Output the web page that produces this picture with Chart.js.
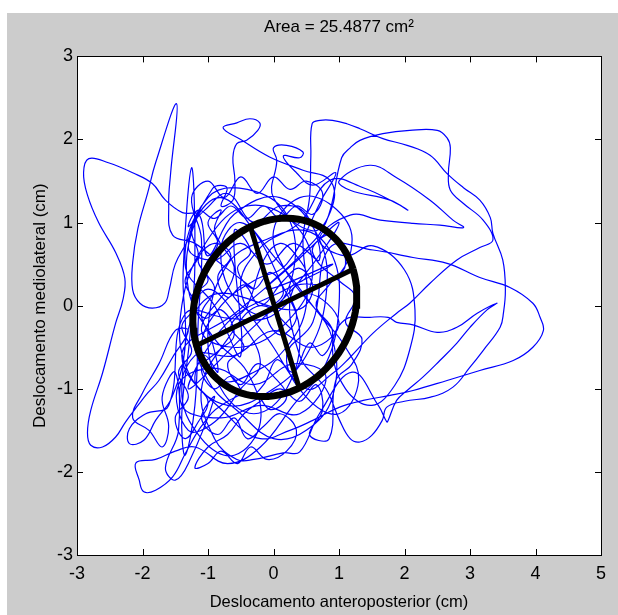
<!DOCTYPE html>
<html>
<head>
<meta charset="utf-8">
<script src="https://cdn.jsdelivr.net/npm/chart.js@4.4.1/dist/chart.umd.min.js"></script>
<style>
  html, body { margin: 0; padding: 0; background: #fff; }
</style>
</head>
<body>
<canvas id="grafico" width="618" height="615"></canvas>
<script>
// limites e ticks dos eixos
const limitesX = [-3, 5];
const limitesY = [-3, 3];
const passoTicks = 1;

const tituloGrafico = 'Area = 25.4877 cm²';
const tituloX = 'Deslocamento anteroposterior (cm)';
const tituloY = 'Deslocamento mediolateral (cm)';

// elipse de confianca
const centroElipse = [0.02, -0.02];
const semiEixos = [1.28, 1.04];
const anguloElipse = 21; // graus

// trajetoria do centro de pressao (x, y) em cm
const trajetoria = [
  // pico superior esquerdo
  [-0.3,0.2],[-0.8,0.5],[-1.2,0.75],[-1.54,0.85],[-1.6,1.21],[-1.57,1.6],[-1.48,2.43],[-1.8,1.72],[-1.92,1.36],[-2.07,0.93],[-2.15,0.52],[-2.15,0.19],[-2.04,0.03],[-1.85,-0.03],[-1.66,0.03],[-1.59,0.2],[-1.5,0.5],[-1.3,0.8],
  [-1.1,1.2],[-1.25,0.9],[-1.15,0.6],[-1.35,0.3],[-1.2,0.0],[-1.4,-0.25],[-1.25,-0.55],[-1.45,-0.8],[-1.3,-1.1],[-1.5,-1.35],[-1.35,-1.6],[-1.15,-1.4],[-1.0,-1.15],[-1.2,-0.9],[-1.05,-0.6],[-0.85,-0.8],[-0.95,-0.4],[-1.1,-0.1],[-0.9,0.2],[-1.05,0.45],[-0.85,0.75],[-1.0,1.0],[-0.8,1.15],
  [-0.9,0.9],[-0.6,0.4],[-1.1,-0.3],[-0.5,-0.5],[0.2,-0.2],[0.6,0.4],[0.3,1.0],[-0.4,1.2],[-1.0,0.8],[-1.4,0.0],[-1.3,-0.8],[-0.7,-1.2],[0.0,-1.0],[0.5,-0.6],[0.8,0.1],[0.7,0.8],[0.1,1.3],[-0.6,1.1],[-1.0,0.6],
  // laco grande a esquerda
  [-1.13,1.09],[-1.39,1.12],[-1.65,1.27],[-1.85,1.47],[-2.15,1.6],[-2.52,1.72],[-2.82,1.77],[-2.9,1.6],[-2.84,1.33],[-2.67,1.0],[-2.41,0.64],[-2.27,0.33],[-2.3,0.07],[-2.41,-0.21],[-2.61,-0.81],[-2.79,-1.26],[-2.84,-1.53],[-2.79,-1.68],[-2.61,-1.7],[-2.41,-1.58],[-2.26,-1.4],[-2.07,-1.2],[-1.92,-1.05],[-1.75,-0.9],[-1.54,-0.62],[-1.3,-0.3],
  [-1.5,-0.3],[-1.75,-0.7],[-2.0,-1.05],[-2.15,-1.35],[-1.9,-1.5],[-1.7,-1.7],[-1.6,-1.45],[-1.7,-1.1],[-1.5,-0.8],[-1.45,-1.5],[-1.65,-1.95],[-1.5,-2.1],[-1.3,-1.9],
  [-0.9,-1.1],[-1.1,-1.35],[-0.85,-1.55],[-0.6,-1.35],[-0.4,-1.6],[-0.15,-1.45],[0.1,-1.3],[0.35,-1.5],[0.2,-1.75],[-0.1,-1.85],[-0.35,-1.7],[-0.55,-1.9],[-0.8,-1.75],[-1.0,-1.9],[-1.2,-1.95],[-1.0,-1.7],[-0.7,-1.55],[-0.45,-1.3],[-0.2,-1.15],[0.1,-1.0],[0.4,-1.15],[0.65,-0.95],[0.75,-1.25],[0.55,-1.55],[0.85,-1.6],
  [0.95,-0.9],[1.2,-0.7],[1.35,-0.4],[1.1,-0.2],[1.25,0.1],[1.0,0.3],[0.7,0.5],[0.6,0.7],[0.9,0.85],[1.1,0.5],[0.85,0.25],[0.65,0.0],[0.9,-0.3],[0.75,-0.6],
  [0.55,-0.45],[0.3,-0.8],[0.05,-0.65],[-0.15,-0.95],[-0.4,-1.1],[-0.65,-0.85],[-0.9,-1.0],[-1.1,-0.75],[-0.85,-0.55],[-0.6,-0.35],[-0.8,-0.05],[-1.05,-0.15],[-1.25,0.1],[-1.0,0.3],[-1.15,0.55],[-0.9,0.75],[-0.65,0.6],[-0.85,0.35],[-0.7,0.1],[-0.45,0.25],[-0.2,0.0],[0.15,0.3],[0.4,0.45],[0.6,0.2],[0.35,-0.05],
  [-1.0,0.1],[-1.4,-1.0],[-1.1,-1.6],[-0.6,-1.8],[-0.2,-1.4],[-0.4,-0.8],[-0.9,-0.4],[-1.3,0.2],[-1.2,1.0],[-0.8,1.3],[-0.3,0.9],[0.1,0.3],[0.4,-0.3],[0.2,-1.0],[-0.3,-1.3],[-0.8,-1.0],[-1.0,-0.3],[-0.7,0.5],[-0.1,0.8],[0.5,0.9],[0.9,0.6],[1.0,0.0],[0.8,-0.7],[0.3,-1.2],[-0.2,-1.7],[-0.7,-1.9],[-1.2,-1.7],
  // gancho inferior esquerdo
  [-1.5,-1.75],[-1.8,-1.85],[-2.1,-1.89],[-2.05,-2.1],[-1.98,-2.24],[-1.8,-2.22],[-1.54,-2.06],[-1.34,-1.77],[-1.1,-1.45],[-0.8,-1.2],
  [-0.3,-1.05],[-0.05,-1.25],[0.2,-1.1],[0.0,-0.85],[-0.25,-0.7],[-0.5,-0.95],[-0.7,-0.7],[-0.45,-0.5],[-0.65,-0.25],[-0.4,0.0],[-0.15,0.55],[0.1,0.75],[0.35,0.6],[0.5,0.35],[0.25,0.2],[0.35,-0.15],[0.1,-0.35],[-0.1,-0.1],[0.15,0.15],[-0.05,0.4],[-0.3,0.2],[-0.55,0.45],[-0.35,0.65],[-0.6,0.9],
  [-0.5,-0.6],[-0.9,0.0],[-1.35,0.5],[-1.0,1.3],[-0.4,1.4],[0.2,1.1],[0.3,0.4],[-0.1,-0.1],[-0.6,0.1],[-0.8,0.7],[-0.5,1.0],[0.0,0.6],[0.5,0.1],[0.9,-0.4],[0.9,-1.1],[0.5,-1.5],[0.0,-1.6],[-0.5,-1.3],[-1.0,-0.9],[-1.25,-0.2],[-1.0,0.2],[-0.5,-0.2],[-0.2,-0.7],[-0.5,-1.0],[-0.9,-1.4],[-1.3,-1.5],
  [-1.45,-0.95],[-0.9,-0.75],[-0.3,-0.95],[0.3,-0.7],[0.8,-0.85],[0.4,-1.3],[-0.2,-1.2],[-0.8,-1.35],[-1.4,-1.2],[-1.2,-0.6],[-0.6,-0.6],[0.0,-0.3],[0.6,-0.5],[1.0,-0.2],[0.5,0.15],[-0.1,-0.15],[-0.7,-0.15],[-1.35,-0.1],
  [-1.6,-1.2],[-1.95,-1.3],[-2.2,-1.48],[-2.2,-1.66],[-1.98,-1.62],[-1.8,-1.38],[-1.55,-1.1],[-1.35,-0.5],
  [-1.38,0.4],[-1.25,1.66],[-1.2,0.5],[-1.28,-0.4],[-1.4,-1.3],[-1.35,-1.8],[-1.2,-1.2],[-1.15,-0.2],[-1.1,0.8],
  [-1.25,1.3],[-1.0,1.5],[-0.75,1.3],[-0.5,1.55],[-0.25,1.35],[0.0,1.55],[0.25,1.4],[0.5,1.5],[0.75,1.35],[0.6,1.1],[0.35,1.2],[0.1,1.05],[-0.15,1.2],[-0.4,1.05],[-0.65,1.2],[-0.9,1.05],[-1.15,1.15],
  [-1.3,0.95],[-1.05,1.15],[-0.7,1.35],[-0.3,1.0],[0.1,1.2],[0.5,1.1],[0.7,0.55],[0.3,0.75],[-0.1,0.5],[-0.5,0.75],[-0.9,0.55],[-1.3,0.7],
  // lacos do topo
  [-0.93,1.41],[-0.71,1.42],[-0.8,1.2],[-0.62,1.27],[-0.59,1.51],[-0.62,1.78],[-0.56,1.95],[-0.41,1.99],[-0.24,2.11],[-0.21,2.2],[-0.36,2.25],[-0.56,2.2],[-0.77,2.14],[-0.5,2.0],[-0.06,1.79],[0.45,1.63],[0.86,1.51],[0.9,1.2],[0.6,0.9],
  [0.0,1.3],[0.05,1.75],[0.0,1.9],[0.2,1.93],[0.45,1.85],[0.4,1.78],[0.15,1.8],[0.35,1.6],[0.6,1.45],[0.95,1.6],[0.75,1.3],
  [0.2,0.5],[-0.3,0.3],[-0.8,0.0],[-1.1,-0.5],[-0.8,-0.9],[-0.3,-0.8],[0.2,-0.5],[0.5,0.0],[0.45,0.8],
  // contorno externo superior direito
  [0.55,1.3],[0.57,1.8],[0.59,2.19],[0.71,2.23],[0.9,2.23],[1.12,2.19],[1.32,2.13],[1.67,2.01],[2.04,1.93],[2.39,1.81],[2.65,1.59],[2.9,1.42],[3.15,1.27],[3.31,1.06],[3.35,0.87],[3.5,0.55],[3.54,0.19],[3.51,-0.09],[3.46,-0.26],[3.2,-0.54],[3.0,-0.74],[2.74,-0.98],[2.4,-1.1],[2.0,-1.15],[1.73,-1.22],
  [1.66,-1.38],[1.5,-1.56],[1.32,-1.64],[1.17,-1.6],[1.01,-1.38],[0.8,-1.0],[0.4,-0.6],
  [0.3,0.2],[0.9,0.3],[1.2,0.8],[0.9,1.2],[0.4,1.3],[0.0,0.9],[0.2,0.4],[0.7,-0.1],[1.1,-0.5],[1.3,-0.9],[1.0,-1.3],[0.5,-1.1],[0.2,-0.6],[0.6,-0.2],
  // lobulo direito
  [0.86,0.7],[1.52,0.67],[2.13,0.58],[2.65,0.51],[3.15,0.34],[3.61,0.22],[3.96,0.03],[4.07,-0.14],[4.12,-0.3],[3.96,-0.5],[3.66,-0.66],[3.15,-0.78],[2.65,-0.9],[2.13,-1.02],[1.78,-1.08],[1.37,-1.14],[1.01,-1.22],[0.6,-1.38],[0.25,-1.5],[-0.2,-1.6],[-0.6,-1.4],
  [-1.4,-0.6],[-0.6,-0.1],[0.3,0.5],[1.0,1.0],[0.4,0.3],[-0.5,-0.4],[-1.3,-1.0],[-0.7,-0.2],[0.2,0.2],[0.9,0.5],
  [-0.1,0.2],[0.4,0.6],[0.8,1.0],
  // fita superior
  [1.04,1.78],[1.17,1.9],[1.32,1.99],[1.67,2.07],[2.08,2.11],[2.5,2.11],[2.65,2.02],[2.7,1.9],[2.67,1.59],[2.7,1.39],[2.9,1.23],[3.2,1.03],[3.35,0.79],[3.15,0.7],[2.8,0.55],[2.39,0.27],[2.08,0.03],[1.88,-0.09],[1.52,-0.33],[1.17,-0.62],[0.91,-0.81],[0.5,-1.0],
  [0.0,-0.5],[-0.5,0.2],[-0.2,0.7],[0.4,1.0],
  [0.86,1.51],[1.37,1.42],[1.88,1.23],[2.05,1.15],[1.78,1.27],[1.17,1.39],[1.0,1.5],[1.47,1.69],[1.88,1.54],[2.39,1.27],[2.74,1.03],[2.9,0.94],[2.54,0.97],[2.13,0.99],[1.63,1.03],[1.17,1.09],[0.7,0.8],
  [1.1,0.6],[1.52,0.72],[2.0,0.43],[2.16,-0.05],[2.08,-0.53],[1.85,-0.96],[1.5,-1.2],[1.1,-1.0],[0.9,-0.5],
  [1.09,-0.17],[1.47,-0.14],[1.75,-0.14],[1.88,-0.2],[2.13,-0.23],[2.5,-0.32],[2.8,-0.26],[3.11,-0.09],[3.41,0.03],[3.26,-0.05],[3.0,-0.26],[2.8,-0.45],[2.54,-0.66],[2.28,-0.86],[2.04,-1.02],[1.88,-1.14],[1.75,-1.38],[1.73,-1.4],[1.6,-1.2],[1.2,-0.8],
  [0.7,-1.3],[0.4,-1.76],[0.15,-1.77],[-0.3,-1.85],[-0.56,-1.85],[-0.9,-1.6],[-1.1,-1.0],[-0.7,-0.4],[-0.2,0.0],[0.3,-0.3]
];

// contorno da elipse a partir dos parametros
const rad = anguloElipse * Math.PI / 180;
const contornoElipse = [];
for (let g = 0; g <= 360; g += 4) {
  const t = g * Math.PI / 180;
  const u = semiEixos[0] * Math.cos(t), v = semiEixos[1] * Math.sin(t);
  contornoElipse.push({
    x: centroElipse[0] + u * Math.cos(rad) - v * Math.sin(rad),
    y: centroElipse[1] + u * Math.sin(rad) + v * Math.cos(rad)
  });
}
const eixoMaior = [-1, 1].map(s => ({
  x: centroElipse[0] + s * semiEixos[0] * Math.cos(rad),
  y: centroElipse[1] + s * semiEixos[0] * Math.sin(rad)
}));
const eixoMenor = [-1, 1].map(s => ({
  x: centroElipse[0] - s * semiEixos[1] * Math.sin(rad),
  y: centroElipse[1] + s * semiEixos[1] * Math.cos(rad)
}));

// fundo cinza estilo matlab + area branca
const fundo = {
  id: 'fundo',
  beforeDraw(chart) {
    const { ctx, chartArea: a } = chart;
    ctx.save();
    ctx.fillStyle = '#fff';
    ctx.fillRect(0, 0, chart.width, chart.height);
    ctx.fillStyle = '#cccccc';
    ctx.fillRect(7, 13, chart.width - 7, chart.height - 13);
    ctx.fillStyle = '#fff';
    ctx.fillRect(a.left, a.top, a.right - a.left, a.bottom - a.top);
    ctx.restore();
  }
};

// moldura e ticks para dentro
const moldura = {
  id: 'moldura',
  afterDatasetsDraw(chart) {
    const { ctx, chartArea: a, scales } = chart;
    const L = 6;
    ctx.save();
    ctx.strokeStyle = '#000';
    ctx.lineWidth = 1;
    ctx.beginPath();
    scales.x.ticks.forEach(t => {
      const px = Math.round(scales.x.getPixelForValue(t.value)) + 0.5;
      ctx.moveTo(px, a.bottom); ctx.lineTo(px, a.bottom - L);
      ctx.moveTo(px, a.top); ctx.lineTo(px, a.top + L);
    });
    scales.y.ticks.forEach(t => {
      const py = Math.round(scales.y.getPixelForValue(t.value)) + 0.5;
      ctx.moveTo(a.left, py); ctx.lineTo(a.left + L, py);
      ctx.moveTo(a.right, py); ctx.lineTo(a.right - L, py);
    });
    ctx.stroke();
    ctx.strokeRect(Math.round(a.left) + 0.5, Math.round(a.top) + 0.5,
      Math.round(a.right - a.left), Math.round(a.bottom - a.top));
    ctx.restore();
  }
};

Chart.defaults.font.family = "'Liberation Sans Narrow', 'Liberation Sans', Arial, sans-serif";
Chart.defaults.color = '#000';

const linha = { showLine: true, pointRadius: 0, fill: false };

new Chart(document.getElementById('grafico'), {
  type: 'scatter',
  data: {
    datasets: [
      { ...linha, data: contornoElipse, borderColor: '#000', borderWidth: 7, tension: 0 },
      { ...linha, data: eixoMaior, borderColor: '#000', borderWidth: 5 },
      { ...linha, data: eixoMenor, borderColor: '#000', borderWidth: 5 },
      { ...linha, data: trajetoria.map(([x, y]) => ({ x, y })), borderColor: '#0000ff', borderWidth: 1.2, tension: 0.4 }
    ]
  },
  plugins: [fundo, moldura],
  options: {
    responsive: false,
    animation: false,
    layout: { padding: { top: 13, left: 7, right: 17, bottom: 0 } },
    plugins: {
      legend: { display: false },
      tooltip: { enabled: false },
      title: {
        display: true, fullSize: false, text: tituloGrafico, color: '#000',
        font: { size: 17, weight: 'normal' }, padding: { top: 4, bottom: 19 }
      }
    },
    scales: {
      x: {
        type: 'linear', min: limitesX[0], max: limitesX[1],
        ticks: { stepSize: passoTicks, padding: 8, font: { size: 18 } },
        grid: { display: false, drawTicks: false },
        border: { display: false },
        title: { display: true, text: tituloX, font: { size: 16.5 }, padding: { top: 0, bottom: 3 } },
        afterFit(s) { s.height = 60; }
      },
      y: {
        type: 'linear', min: limitesY[0], max: limitesY[1],
        ticks: { stepSize: passoTicks, padding: 4, font: { size: 18 } },
        grid: { display: false, drawTicks: false },
        border: { display: false },
        title: { display: true, text: tituloY, font: { family: "'Liberation Sans', Arial, sans-serif", size: 17 }, padding: { top: 23, bottom: 0 } },
        afterFit(s) { s.width = 70; }
      }
    }
  }
});
</script>
</body>
</html>
